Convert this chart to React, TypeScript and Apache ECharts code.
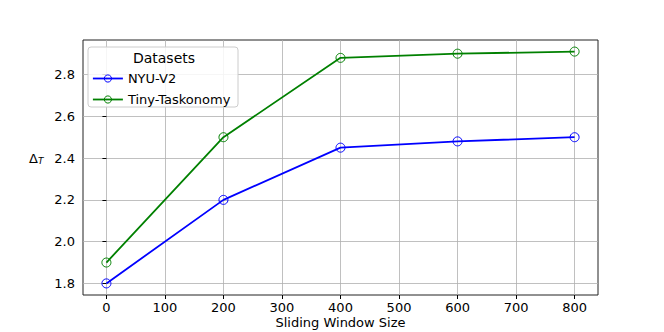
import React, { useEffect, useRef } from "react";
import * as echarts from "echarts";

const windowSizes = [0, 200, 400, 600, 800];
const nyuV2 = [1.8, 2.2, 2.45, 2.48, 2.5];
const tinyTaskonomy = [1.9, 2.5, 2.88, 2.9, 2.91];
const xTicks = [0, 100, 200, 300, 400, 500, 600, 700, 800];
const yTicks = [1.8, 2.0, 2.2, 2.4, 2.6, 2.8];

const FONT = "DejaVu Sans";
const FS = 13;

export default function App() {
  const ref = useRef<HTMLDivElement>(null);
  useEffect(() => {
    if (!ref.current) return;
    const chart = echarts.init(ref.current, undefined, { renderer: "svg" });
    const axisCommon = {
      axisLine: { show: false },
      axisTick: { show: true, length: 4, lineStyle: { color: "#000", width: 1 } },
      splitLine: { show: true, lineStyle: { color: "#b0b0b0", width: 0.8 } },
      axisLabel: { color: "#000", fontSize: FS, fontFamily: FONT },
    };
    const mkSeries = (name: string, vals: number[], color: string) => ({
      name,
      type: "line",
      data: windowSizes.map((x, i) => [x, vals[i]]),
      color,
      lineStyle: { width: 1.8, color },
      symbol: "circle",
      symbolSize: 9,
      itemStyle: { color: "rgba(0,0,0,0)", borderColor: color, borderWidth: 1 },
    });
    chart.setOption({
      animation: false,
      backgroundColor: "#fff",
      grid: {
        left: 83,
        right: 66,
        top: 40,
        bottom: 37,
        outerBoundsMode: "none",
        containLabel: false,
        show: true,
        borderColor: "#222",
        borderWidth: 1,
        backgroundColor: "transparent",
      },
      xAxis: {
        type: "value",
        min: -40,
        max: 840,
        ...axisCommon,
        axisTick: { ...axisCommon.axisTick, customValues: xTicks },
        axisLabel: { ...axisCommon.axisLabel, customValues: xTicks, margin: 6 },
        name: "Sliding Window Size",
        nameLocation: "middle",
        nameGap: 21,
        nameMoveOverlap: false,
        nameTextStyle: { color: "#000", fontSize: FS, fontFamily: FONT, verticalAlign: "top" },
      },
      yAxis: {
        type: "value",
        min: 1.7445,
        max: 2.9655,
        ...axisCommon,
        axisTick: { ...axisCommon.axisTick, customValues: yTicks },
        axisLabel: {
          ...axisCommon.axisLabel,
          customValues: yTicks,
          margin: 8,
          formatter: (v: number) => v.toFixed(1),
        },
      },
      legend: {
        left: 88,
        top: 47,
        orient: "vertical",
        padding: [25, 8, 6, 4],
        itemWidth: 30,
        itemHeight: 9,
        itemGap: 8,
        z: 6,
        itemStyle: { borderWidth: 1 },
        lineStyle: { width: 1.8 },
        textStyle: { color: "#000", fontSize: FS, fontFamily: FONT },
        data: ["NYU-V2", "Tiny-Taskonomy"],
      },
      graphic: [
        {
          type: "rect",
          z: 5,
          shape: { x: 88, y: 47, width: 150, height: 60, r: 3 },
          style: { fill: "rgba(255,255,255,0.85)", stroke: "#cccccc", lineWidth: 1 },
        },
        {
          type: "text",
          z: 7,
          x: 164,
          y: 58,
          style: {
            text: "Datasets",
            fill: "#000",
            font: `14px ${FONT}`,
            align: "center",
            verticalAlign: "middle",
          },
        },
        {
          type: "text",
          z: 7,
          x: 29,
          y: 158,
          style: {
            text: "{a|Δ}{b|T}",
            verticalAlign: "middle",
            rich: {
              a: { fontSize: FS, fontFamily: FONT, color: "#000" },
              b: {
                fontSize: 9,
                fontFamily: FONT,
                fontStyle: "italic",
                color: "#000",
                padding: [6, 0, 0, 0],
              },
            },
          },
        },
      ],
      series: [
        mkSeries("NYU-V2", nyuV2, "#0000ff"),
        mkSeries("Tiny-Taskonomy", tinyTaskonomy, "#008000"),
      ],
    });
    return () => chart.dispose();
  }, []);
  return <div ref={ref} style={{ width: 664, height: 332, marginLeft: -8, marginTop: -8 }} />;
}
